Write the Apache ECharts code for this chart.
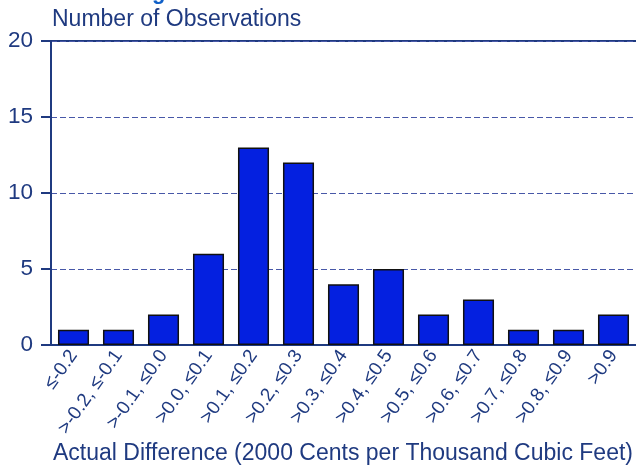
<!DOCTYPE html>
<html><head><meta charset="utf-8">
<script src="https://cdn.jsdelivr.net/npm/echarts@6/dist/echarts.min.js"></script>
<style>html,body{margin:0;padding:0;background:#fff}#c{width:636px;height:466px}</style>
</head><body><div id="c"></div>
<script>
const categories = ['≤-0.2','>-0.2, ≤-0.1','>-0.1, ≤0.0','>0.0, ≤0.1','>0.1, ≤0.2','>0.2, ≤0.3','>0.3, ≤0.4','>0.4, ≤0.5','>0.5, ≤0.6','>0.6, ≤0.7','>0.7, ≤0.8','>0.8, ≤0.9','>0.9'];
const observations = [1,1,2,6,13,12,4,5,2,3,1,1,2];
const yTicks = [0,5,10,15,20];
const txt = '#1f3a80';
const ff = 'Liberation Sans, Arial, sans-serif';
const chart = echarts.init(document.getElementById('c'));
chart.setOption({
  animation:false,
  textStyle:{fontFamily:ff},
  graphic:[
    {type:'text',x:152,y:-18,style:{text:'g',fontSize:22,fontWeight:'bold',fontFamily:ff,fill:'#1060c8'}},
    {type:'text',x:52,y:8.5,style:{text:'Number of Observations',fontSize:23,fontFamily:ff,fill:txt}},
    {type:'text',x:53,y:442,style:{text:'Actual Difference (2000 Cents per Thousand Cubic Feet)',fontSize:23,fontFamily:ff,fill:txt}},
    {type:'line',shape:{x1:51,y1:41,x2:636,y2:41},style:{stroke:txt,lineWidth:2}}
  ],
  grid:{left:51,right:-2,top:41,bottom:121,containLabel:false},
  xAxis:{type:'category',data:categories,
    axisLine:{lineStyle:{color:txt,width:2}},axisTick:{show:false},
    axisLabel:{rotate:55,color:txt,fontSize:19,margin:7,interval:0}},
  yAxis:{type:'value',min:0,max:20,interval:5,
    axisLine:{show:true,lineStyle:{color:txt,width:2}},
    axisTick:{show:true,length:10,lineStyle:{color:txt,width:2}},
    axisLabel:{color:txt,fontSize:22.5,margin:18},
    splitLine:{lineStyle:{color:'#4858a8',type:[6,3],width:1}}},
  series:[{type:'bar',data:observations,barWidth:'69%',
    itemStyle:{color:'#0420e0',borderColor:'#111',borderWidth:1.5}}]
});
</script></body></html>
